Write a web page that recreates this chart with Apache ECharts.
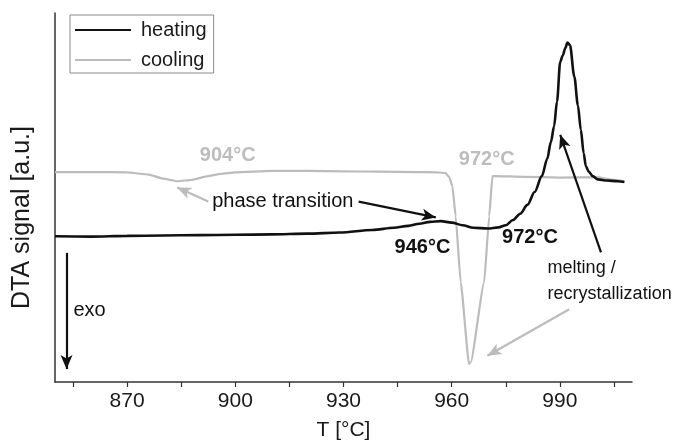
<!DOCTYPE html>
<html>
<head>
<meta charset="utf-8">
<script src="https://cdn.jsdelivr.net/npm/echarts@6/dist/echarts.min.js"></script>
<style>html,body{margin:0;padding:0;background:#fff}#c{width:674px;height:446px}</style>
</head>
<body>
<div id="c"></div>
<script>
// ---- data (T in °C, DTA signal in arbitrary units) ----
const heatingT = [850,860,870,880,890,900,910,920,929,938,944,948,951,954,957,960,963,966,970,973,975,977,979,981,983,985,986.5,987.5,988.4,989.2,990.1,990.8,991.5,992.1,992.8,994.0,995,995.8,996.6,997.2,998,999.1,1000.5,1003,1006,1007.9];
const heatingV = [39.5,39.4,39.6,39.7,39.8,39.9,40.0,40.2,40.5,41.2,41.8,42.3,42.9,43.4,43.6,43.2,42.5,41.8,41.6,41.9,42.5,43.9,45.6,48.0,51.5,55.8,60.5,65,69.3,76,86.8,88.5,90.5,92.0,91.3,82.8,75,68.4,62,58.5,57,55.8,54.9,54.6,54.4,54.2];
const coolingT = [850,860,870,876,880,884,888,892,896,900,910,920,930,940,950,956,958.3,959.3,960.2,961.1,962.5,964.8,965.3,969.0,970.4,971.3,972.2,980,990,1000,1005,1007.9];
const coolingV = [56.9,56.9,56.8,56.2,55.1,54.4,54.8,55.7,56.4,56.8,57.2,57.2,57.1,57.0,56.9,56.8,56.6,55.5,53.1,44.9,27.0,4.9,5.4,27.0,44.9,55.8,55.8,55.6,55.4,55.5,54.8,54.4];
const tickValues = [855,870,885,900,915,930,945,960,975,990,1005];
const labelValues = [870,900,930,960,990];

// annotations: [T, signal, text, color, bold, align, fontSize]
const notes = [
  [897.9, 61.5, '904°C', 'gray', true, 'center', 20],
  [969.7, 60.4, '972°C', 'gray', true, 'center', 20],
  [893.6, 48.9, 'phase transition', 'black', false, 'left', 20],
  [951.9, 36.4, '946°C', 'black', true, 'center', 20],
  [981.7, 39.1, '972°C', 'black', true, 'center', 20],
  [986.6, 31.0, 'melting /', 'black', false, 'left', 18],
  [986.6, 23.8, 'recrystallization', 'black', false, 'left', 18],
  [855.1, 19.5, 'exo', 'black', false, 'left', 20]
];
// arrows: [T1, v1, T2, v2 (head), color]
const arrows = [
  [892.5, 48.9, 883.9, 52.7, 'gray'],
  [934.2, 48.9, 955.6, 44.6, 'black'],
  [1001.4, 35.1, 990.1, 67.0, 'black'],
  [992.6, 19.7, 969.9, 7.1, 'gray'],
  [853.2, 35.0, 853.2, 3.5, 'black']
];

const BLACK = '#111', GRAY = '#bcbcbc', FONT = 'Liberation Sans, Arial, sans-serif';
const colorOf = c => c === 'gray' ? GRAY : BLACK;
const zip = (a, b) => a.map((x, i) => [x, b[i]]);

const chart = echarts.init(document.getElementById('c'), null, {renderer: 'canvas'});
chart.setOption({
  animation: false,
  backgroundColor: '#fff',
  textStyle: {fontFamily: FONT},
  grid: {left: 55, right: 42, top: 13, bottom: 63},
  legend: {
    left: 70, top: 15, orient: 'vertical',
    padding: [4, 7, 2, 4], itemGap: 8, itemWidth: 56, itemHeight: 14,
    borderColor: '#8a8a8a', borderWidth: 1,
    itemStyle: {opacity: 0},
    textStyle: {fontFamily: FONT, fontSize: 20, color: '#1a1a1a', lineHeight: 22, padding: [0, 0, 0, 5]},
    data: ['heating', 'cooling']
  },
  xAxis: {
    type: 'value', min: 850, max: 1010,
    name: 'T [°C]', nameLocation: 'middle', nameGap: 38,
    nameTextStyle: {fontFamily: FONT, fontSize: 21, color: '#1a1a1a'},
    axisLine: {lineStyle: {color: '#333', width: 1.5}},
    axisTick: {show: true, length: 5, inside: false, customValues: tickValues, lineStyle: {color: '#333', width: 1.2}},
    axisLabel: {customValues: labelValues, fontSize: 21, color: '#1a1a1a', margin: 9, fontFamily: FONT},
    splitLine: {show: false}
  },
  yAxis: {
    type: 'value', min: 0, max: 100,
    name: 'DTA signal [a.u.]', nameLocation: 'middle', nameGap: 20,
    nameTextStyle: {fontFamily: FONT, fontSize: 25, color: '#1a1a1a', padding: [0, 40, 0, 0]},
    axisLine: {show: true, lineStyle: {color: '#333', width: 1.5}},
    axisTick: {show: false}, axisLabel: {show: false}, splitLine: {show: false}
  },
  series: [
    {
      name: 'heating', type: 'line', data: zip(heatingT, heatingV),
      symbol: 'none', smooth: 0.3, smoothMonotone: 'x',
      lineStyle: {color: BLACK, width: 2.6}, itemStyle: {color: BLACK}, z: 3
    },
    {
      name: 'cooling', type: 'line', data: zip(coolingT, coolingV),
      symbol: 'none', smooth: 0.15, smoothMonotone: 'x',
      lineStyle: {color: GRAY, width: 2.2}, itemStyle: {color: GRAY}, z: 2,
      markLine: {
        silent: true, symbol: ['none', 'arrow'], symbolSize: [9, 14],
        label: {show: false}, animation: false,
        data: arrows.map(a => [
          {coord: [a[0], a[1]], lineStyle: {color: colorOf(a[4]), width: 2.2, type: 'solid', opacity: 1}, itemStyle: {color: colorOf(a[4]), opacity: 1}},
          {coord: [a[2], a[3]]}
        ])
      }
    },
    {
      name: 'notes', type: 'scatter', symbolSize: 0, silent: true, z: 5,
      itemStyle: {opacity: 1},
      data: notes.map(n => ({
        value: [n[0], n[1]],
        label: {
          show: true, position: 'inside', formatter: n[2], align: n[5], verticalAlign: 'middle',
          fontFamily: FONT, fontSize: n[6], fontWeight: n[4] ? 'bold' : 'normal', opacity: 1,
          color: n[3] === 'gray' ? '#bdbdbd' : '#111'
        }
      }))
    }
  ]
});
</script>
</body>
</html>
